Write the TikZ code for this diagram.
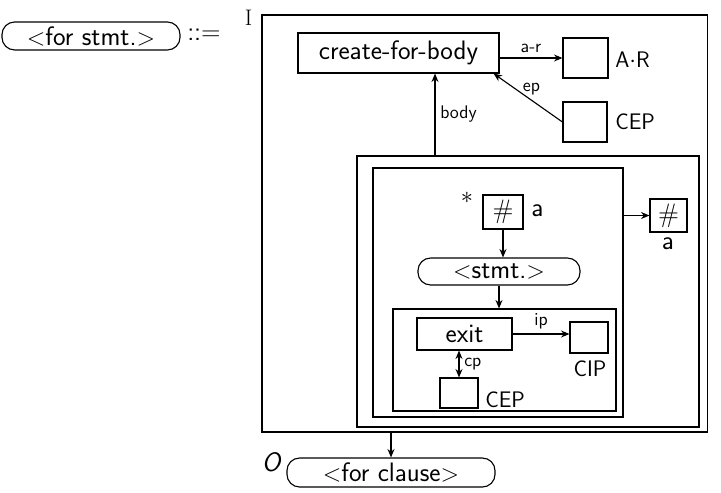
\documentclass[tikz,border=0pt]{standalone}
\usetikzlibrary{arrows.meta,calc}
\tikzset{>={Stealth[length=6,width=5]}}
\tikzset{box/.style={draw,line width=.8pt,inner sep=0pt}}
\tikzset{pill/.style={draw,line width=.8pt,rounded corners=9pt,inner sep=0pt}}
\tikzset{big/.style={font=\sffamily\fontsize{19}{21}\selectfont}}
\tikzset{mid/.style={font=\sffamily\fontsize{16}{18}\selectfont}}
\tikzset{sml/.style={font=\sffamily\fontsize{13}{15}\selectfont}}

\begin{document}
\begin{tikzpicture}[x=.025cm,y=-.025cm,line width=.8pt]
\useasboundingbox (0,0) rectangle (721,492);
% left hand side
\node[pill,big,minimum width=4.45cm,minimum height=.7cm] (fstmt) at (91,36) {$<$for stmt.$>$};
\node[big] (defsym) at (204,35) {::=};
% outer block
\node[box,minimum width=11.125cm,minimum height=10.425cm] (outer) at (484.5,223.5) {};
\node[font=\rmfamily\fontsize{16}{18}\selectfont,anchor=east] (inI) at ($(outer.north west)+(-4,3)$) {I};
\node[box,big,minimum width=5.025cm,minimum height=1cm] (create) at (398.5,53) {create-for-body};
\node[box,minimum width=1.125cm,minimum height=1cm] (ar) at (585.5,58) {};\node[mid,anchor=west] (arlbl) at (610,60) {A$\cdot$R};
\node[box,minimum width=1.1cm,minimum height=1cm] (cepA) at (585,122) {};\node[mid,anchor=west] (ceplblA) at (610,122) {CEP};
\draw[->] (create.east|-ar) -- node[sml,above] {a-r} (ar.west);
\draw[->] (cepA.west) -- node[sml,above,pos=.45] {ep} ($(create.south east)+(-6,0)$);
% loop blocks
\node[box,minimum width=8.55cm,minimum height=6.775cm] (loopA) at (528,291.5) {};
\node[box,minimum width=6.25cm,minimum height=6.225cm] (loopB) at (498,292.5) {};
\coordinate (bx) at (435,0);
\draw[->] (bx|-loopA.north) -- node[sml,right] {body} (bx|-create.south);
\node[big] (star) at (467,198) {$*$};
\node[box,big,minimum width=1cm,minimum height=.85cm] (hashA) at (503,212) {\#};\node[big,anchor=west] (hashlblA) at (526,211) {a};
\node[pill,big,minimum width=4.05cm,minimum height=.675cm] (stmt) at (499,271.5) {$<$stmt.$>$};
\draw[->] (hashA.south) -- (hashA.south|-stmt.north);
\node[box,big,minimum width=.925cm,minimum height=.825cm] (hashB) at (668.5,215.5) {\#};\node[big] (hashlblB) at (668,244) {a};
\draw[->] (loopB.east|-hashB) -- (hashB.west);
% exit part
\node[box,minimum width=5.575cm,minimum height=2.55cm] (exitblk) at (504.5,360) {};
\draw[->] (stmt.south) -- (stmt.south|-exitblk.north);
\node[box,big,minimum width=2.375cm,minimum height=.8cm] (exit) at (464.5,334) {exit};
\node[box,minimum width=.95cm,minimum height=.775cm] (cip) at (589,337.5) {};\node[mid] (ciplbl) at (590,369) {CIP};
\draw[->] (exit.east) -- node[sml,above] {ip} (exit.east-|cip.west);
\node[box,minimum width=.95cm,minimum height=.75cm] (cepB) at (459,393) {};\node[mid,anchor=west] (ceplblB) at (480,400) {CEP};
\draw[<->] (cepB.north|-exit.south) -- node[sml,right] {cp} (cepB.north);
% right hand side
\node[pill,big,minimum width=5.2cm,minimum height=.725cm] (fclause) at (391,472.5) {$<$for clause$>$};
\node[big] (outO) at (272,462) {\textit{O}};
\draw[->] (fclause.north|-outer.south) -- (fclause.north);
\end{tikzpicture}
\end{document}
